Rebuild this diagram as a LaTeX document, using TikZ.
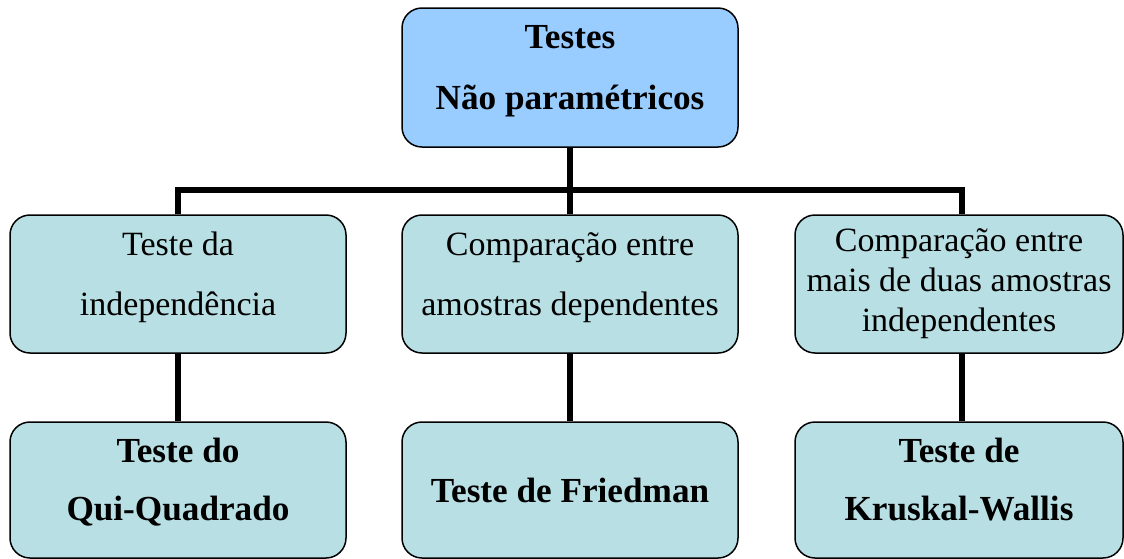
\documentclass[tikz,border=0pt]{standalone}
\usepackage{fontspec}
\setmainfont{Liberation Serif}
\definecolor{topblue}{HTML}{99CCFF}
\definecolor{boxcyan}{HTML}{B8DFE3}
\newcommand{\liftby}[1]{\rule[-#1]{0pt}{0pt}}
\begin{document}
\begin{tikzpicture}[x=1pt,y=-1pt,
  box/.style={draw=black, line width=1.5pt, rounded corners=20pt, fill=boxcyan,
    minimum width=336pt, minimum height=138pt, align=center, inner sep=0pt,
    font=\fontsize{34}{60}\selectfont},
  boldbox/.style={box, font=\fontsize{35.2}{60}\selectfont\bfseries},
  conn/.style={line width=6pt}]
\useasboundingbox (0,0) rectangle (1124,558);
% nodes
\node[boldbox, fill=topblue, minimum height=139pt, font=\fontsize{35.2}{61.5}\selectfont\bfseries] (top) at (570,77.5) {Testes\\Não paramétricos\liftby{20pt}};
\node[box] (m1) at (178,284) {Teste da\\independência\liftby{20pt}};
\node[box] (m2) at (570,284) {Comparação entre\\amostras dependentes\liftby{20pt}};
\node[box, minimum width=328pt, font=\fontsize{34}{40}\selectfont] (m3) at (959,284) {Comparação entre\\mais de duas amostras\\independentes};
\node[boldbox, minimum height=136pt, font=\fontsize{35.2}{58}\selectfont\bfseries] (b1) at (178,490) {Teste do\\Qui-Quadrado\liftby{22pt}};
\node[boldbox, minimum height=136pt] (b2) at (570,490) {Teste de Friedman};
\node[boldbox, minimum height=136pt, minimum width=328pt, font=\fontsize{35.2}{58}\selectfont\bfseries] (b3) at (959,490) {Teste de\\Kruskal-Wallis\liftby{22pt}};
% bar coordinates
\coordinate (bl) at (178,190);
\coordinate (bc) at (570,190);
\coordinate (br) at (962,190);
% connectors
\draw[conn] (top.south) -- (bc);
\draw[conn] (m1.north) -- (bl) -- (br) -- (br |- m3.north);
\draw[conn] (bc) -- (m2.north);
\draw[conn] (m1.south) -- (b1.north);
\draw[conn] (m2.south) -- (b2.north);
\draw[conn] (br |- m3.south) -- (br |- b3.north);
\end{tikzpicture}
\end{document}
